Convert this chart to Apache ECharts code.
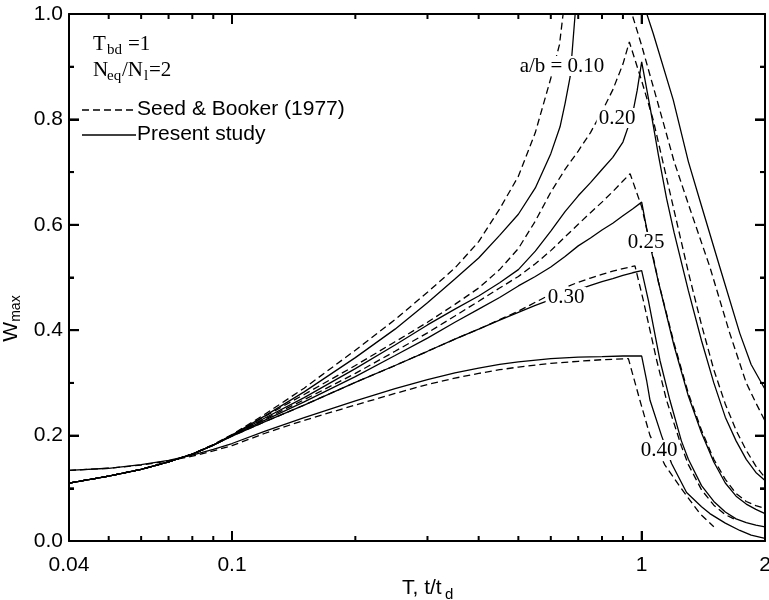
<!DOCTYPE html>
<html>
<head>
<meta charset="utf-8">
<script src="https://cdn.jsdelivr.net/npm/echarts@6/dist/echarts.min.js"></script>
<style>
  html, body { margin: 0; padding: 0; background: #fff; }
  #chart { width: 769px; height: 600px; }
</style>
</head>
<body>
<div id="chart"></div>
<script>
// W_max against normalised time T = t/t_d for five crack ratios a/b.
// Each ratio has a Seed & Booker (1977) curve (dashed) and a present-study curve (solid).

// ---- a/b = 0.10 ----
const SB010_T = [0.04,0.05,0.06,0.07,0.08,0.09,0.1,0.12,0.15,0.2,0.25,0.3,0.35,0.4,0.45,0.5,0.55,0.6,0.63,0.643,0.7,0.8,0.93,0.93,1.0,1.108,1.2,1.316,1.467,1.641,1.8,1.9,2.0];
const SB010_W = [0.110,0.123,0.136,0.150,0.165,0.183,0.202,0.240,0.290,0.362,0.420,0.472,0.518,0.568,0.630,0.692,0.775,0.878,0.942,1.000,1.30,1.70,2.20,1.02,0.940,0.817,0.720,0.627,0.520,0.394,0.300,0.262,0.228];
const PS010_T = [0.04,0.05,0.06,0.07,0.08,0.09,0.1,0.12,0.15,0.2,0.25,0.3,0.35,0.4,0.45,0.5,0.55,0.6,0.632,0.65,0.669,0.688,0.75,0.85,1.0,1.0,1.067,1.194,1.3,1.387,1.551,1.736,1.85,2.0];
const PS010_W = [0.110,0.123,0.136,0.150,0.165,0.182,0.201,0.237,0.283,0.348,0.402,0.452,0.497,0.537,0.580,0.620,0.670,0.735,0.786,0.830,0.881,1.000,1.30,1.70,2.20,1.03,0.963,0.837,0.720,0.646,0.520,0.394,0.335,0.288];

// ---- a/b = 0.20 ----
const SB020_T = [0.04,0.05,0.06,0.07,0.08,0.09,0.1,0.12,0.15,0.2,0.25,0.3,0.35,0.4,0.45,0.5,0.55,0.6,0.65,0.7,0.75,0.8,0.85,0.9,0.933,1.0,1.067,1.2,1.3,1.4,1.5,1.6,1.7,1.8,1.9,2.0];
const SB020_W = [0.110,0.123,0.136,0.150,0.165,0.182,0.201,0.236,0.278,0.333,0.378,0.415,0.449,0.480,0.515,0.555,0.607,0.662,0.705,0.740,0.775,0.815,0.856,0.905,0.947,0.873,0.799,0.627,0.510,0.410,0.325,0.260,0.210,0.172,0.142,0.120];
const PS020_T = [0.04,0.05,0.06,0.07,0.08,0.09,0.1,0.12,0.15,0.2,0.25,0.3,0.35,0.4,0.45,0.5,0.55,0.6,0.65,0.7,0.75,0.8,0.85,0.9,0.95,0.975,1.0,1.05,1.1,1.15,1.2,1.3,1.4,1.5,1.6,1.7,1.8,1.9,2.0];
const PS020_W = [0.110,0.123,0.136,0.150,0.165,0.182,0.201,0.233,0.272,0.327,0.372,0.410,0.440,0.465,0.490,0.515,0.550,0.588,0.625,0.655,0.680,0.705,0.728,0.757,0.810,0.855,0.909,0.820,0.730,0.650,0.585,0.475,0.380,0.300,0.235,0.190,0.155,0.130,0.115];

// ---- a/b = 0.25 ----
const SB025_T = [0.04,0.05,0.06,0.07,0.08,0.09,0.1,0.12,0.15,0.2,0.25,0.3,0.35,0.4,0.45,0.5,0.55,0.6,0.65,0.7,0.75,0.8,0.85,0.9,0.937,1.0,1.028,1.067,1.1,1.2,1.3,1.4,1.5,1.6,1.7,1.8,1.9,2.0];
const SB025_W = [0.110,0.123,0.136,0.150,0.165,0.182,0.200,0.231,0.268,0.318,0.360,0.395,0.427,0.455,0.480,0.502,0.526,0.551,0.577,0.601,0.623,0.643,0.663,0.683,0.697,0.634,0.593,0.539,0.490,0.375,0.280,0.210,0.155,0.117,0.090,0.075,0.067,0.062];
const PS025_T = [0.04,0.05,0.06,0.07,0.08,0.09,0.1,0.12,0.15,0.2,0.25,0.3,0.35,0.4,0.45,0.5,0.55,0.6,0.65,0.7,0.75,0.8,0.85,0.9,0.95,1.0,1.03,1.06,1.1,1.2,1.3,1.4,1.5,1.6,1.7,1.8,1.9,2.0];
const PS025_W = [0.110,0.123,0.136,0.150,0.165,0.182,0.200,0.229,0.264,0.312,0.352,0.385,0.415,0.440,0.462,0.484,0.502,0.520,0.540,0.560,0.575,0.590,0.603,0.617,0.630,0.643,0.590,0.545,0.490,0.370,0.275,0.205,0.150,0.110,0.085,0.070,0.060,0.052];

// ---- a/b = 0.30 ----
const SB030_T = [0.04,0.05,0.06,0.07,0.08,0.09,0.1,0.12,0.15,0.2,0.25,0.3,0.35,0.4,0.45,0.5,0.55,0.6,0.65,0.7,0.75,0.8,0.85,0.9,0.963,1.009,1.088,1.15,1.25,1.3,1.4,1.5,1.6,1.7];
const SB030_W = [0.110,0.123,0.136,0.150,0.165,0.182,0.199,0.226,0.258,0.301,0.333,0.360,0.383,0.402,0.420,0.436,0.453,0.468,0.481,0.491,0.499,0.506,0.512,0.517,0.522,0.457,0.343,0.267,0.180,0.145,0.097,0.068,0.050,0.040];
const PS030_T = [0.04,0.05,0.06,0.07,0.08,0.09,0.1,0.12,0.15,0.2,0.25,0.3,0.35,0.4,0.45,0.5,0.55,0.6,0.65,0.7,0.75,0.8,0.85,0.9,0.95,1.0,1.038,1.108,1.172,1.25,1.3,1.4,1.5,1.6,1.7,1.8,1.9,2.0];
const PS030_W = [0.110,0.123,0.136,0.150,0.165,0.182,0.199,0.226,0.258,0.301,0.333,0.360,0.383,0.402,0.419,0.434,0.447,0.458,0.468,0.477,0.485,0.492,0.498,0.504,0.509,0.513,0.457,0.343,0.267,0.190,0.155,0.105,0.075,0.055,0.042,0.035,0.030,0.027];

// ---- a/b = 0.40 ----
const SB040_T = [0.04,0.05,0.06,0.07,0.08,0.09,0.1,0.12,0.15,0.2,0.25,0.3,0.35,0.4,0.45,0.5,0.6,0.7,0.8,0.928,0.99,1.048,1.14,1.24,1.387,1.5];
const SB040_W = [0.134,0.138,0.144,0.152,0.161,0.171,0.181,0.204,0.229,0.258,0.280,0.297,0.309,0.318,0.325,0.330,0.337,0.341,0.344,0.346,0.267,0.200,0.144,0.103,0.052,0.027];
const PS040_T = [0.04,0.05,0.06,0.07,0.08,0.09,0.1,0.12,0.15,0.2,0.25,0.3,0.35,0.4,0.45,0.5,0.6,0.7,0.8,0.9,1.0,1.028,1.048,1.118,1.183,1.287,1.4,1.467,1.6,1.736,1.85,2.0];
const PS040_W = [0.134,0.138,0.145,0.153,0.163,0.174,0.185,0.208,0.234,0.266,0.289,0.306,0.319,0.328,0.335,0.340,0.346,0.349,0.350,0.351,0.351,0.305,0.267,0.200,0.147,0.092,0.065,0.052,0.034,0.020,0.011,0.005];

// ---- axes ----
const X_MIN = 0.04, X_MAX = 2;
const X_LABELS = [0.04, 0.1, 1, 2];
const X_MAJOR_TICKS = [0.1, 1];
const X_MINOR_TICKS = [0.05, 0.06, 0.07, 0.08, 0.09, 0.2, 0.3, 0.4, 0.5, 0.6, 0.7, 0.8, 0.9];
const Y_MIN = 0, Y_MAX = 1, Y_STEP = 0.2;
const Y_MAJOR_TICKS = [0.2, 0.4, 0.6, 0.8];
const Y_MINOR_TICKS = [0.1, 0.3, 0.5, 0.7, 0.9];

// curve annotations: text and anchor [x, y] in pixels
const CURVE_TAGS = [
  ['a/b = 0.10', 562, 66],
  ['0.20', 617, 118],
  ['0.25', 646, 242],
  ['0.30', 566, 297],
  ['0.40', 659, 450]
];

const CURVES = [
  { t: SB010_T, w: SB010_W, dashed: true },
  { t: PS010_T, w: PS010_W, dashed: false },
  { t: SB020_T, w: SB020_W, dashed: true },
  { t: PS020_T, w: PS020_W, dashed: false },
  { t: SB025_T, w: SB025_W, dashed: true },
  { t: PS025_T, w: PS025_W, dashed: false },
  { t: SB030_T, w: SB030_W, dashed: true },
  { t: PS030_T, w: PS030_W, dashed: false },
  { t: SB040_T, w: SB040_W, dashed: true },
  { t: PS040_T, w: PS040_W, dashed: false }
];

const SANS = '"Liberation Sans", Arial, sans-serif';
const SERIF = '"Liberation Serif", "Times New Roman", serif';
const DASH = [7, 4];
const LINE_W = 1.3;
const MAJOR_LEN = 10, MINOR_LEN = 5, TICK_W = 2;

const GRID = { left: 69, right: 4, top: 14, bottom: 59, outerBoundsMode: 'none', containLabel: false };

function xAxisDef(position, showLabels) {
  return {
    type: 'log', logBase: 10, min: X_MIN, max: X_MAX, position: position, gridIndex: 0,
    axisLine: { show: true, onZero: false, lineStyle: { color: '#000', width: 2 } },
    axisTick: { show: true, inside: true, length: MAJOR_LEN, customValues: X_MAJOR_TICKS,
                lineStyle: { color: '#000', width: TICK_W } },
    axisLabel: showLabels ? {
      show: true, customValues: X_LABELS, color: '#000', fontSize: 21, fontFamily: SANS,
      margin: 14, formatter: v => String(+Number(v).toPrecision(3))
    } : { show: false },
    splitLine: { show: false }, minorTick: { show: false }, minorSplitLine: { show: false }
  };
}

function yAxisDef(position, showLabels) {
  const ax = {
    type: 'value', min: Y_MIN, max: Y_MAX, interval: Y_STEP, position: position, gridIndex: 0,
    axisLine: { show: true, onZero: false, lineStyle: { color: '#000', width: 2 } },
    axisTick: { show: true, inside: true, length: MAJOR_LEN, lineStyle: { color: '#000', width: TICK_W } },
    minorTick: { show: true, splitNumber: 2, length: MINOR_LEN, lineStyle: { color: '#000', width: TICK_W } },
    axisLabel: showLabels ? {
      show: true, color: '#000', fontSize: 21, fontFamily: SANS, margin: 6,
      formatter: v => v.toFixed(1)
    } : { show: false },
    splitLine: { show: false }, minorSplitLine: { show: false }
  };
  if (showLabels) {
    // axis title W_max, subscript pushed down in the rotated frame
    ax.name = '{w|W}{s|max}';
    ax.nameLocation = 'middle';
    ax.nameRotate = 90;
    ax.nameGap = 45;
    ax.nameTextStyle = {
      padding: [0, 82, 0, 0],
      rich: {
        w: { fontSize: 21, fontFamily: SANS, color: '#000', lineHeight: 22 },
        s: { fontSize: 14, fontFamily: SANS, color: '#000', lineHeight: 14, padding: [10, 0, 0, 0] }
      }
    };
  }
  return ax;
}

function txt(text, x, y, size, family, extra) {
  return {
    type: 'text', x: x, y: y, z: 150,
    style: Object.assign({
      text: text, fill: '#000', font: size + 'px ' + family,
      align: 'left', verticalAlign: 'middle'
    }, extra || {})
  };
}

const series = CURVES.map((c, i) => ({
  type: 'line',
  name: 'curve' + i,
  xAxisIndex: 0, yAxisIndex: 0,
  data: c.t.map((t, k) => [t, c.w[k]]),
  showSymbol: false, symbol: 'none',
  clip: true,
  lineStyle: { color: '#000', width: LINE_W, type: c.dashed ? DASH : 'solid' },
  z: 2
}));

const chart = echarts.init(document.getElementById('chart'));
chart.setOption({
  animation: false,
  backgroundColor: '#fff',
  grid: GRID,
  xAxis: [ xAxisDef('bottom', true), xAxisDef('top', false) ],
  yAxis: [ yAxisDef('left', true), yAxisDef('right', false) ],
  series: series
});

// inward tick marks on all four sides, placed through the axis scales
const px = v => chart.convertToPixel({ xAxisIndex: 0 }, v);
const py = v => chart.convertToPixel({ yAxisIndex: 0 }, v);
const xL = px(X_MIN), xR = px(X_MAX), yB = py(Y_MIN), yT = py(Y_MAX);
const graphics = [];
function tickLine(x1, y1, x2, y2) {
  graphics.push({ type: 'line', z: 200, shape: { x1: x1, y1: y1, x2: x2, y2: y2 },
    style: { stroke: '#000', lineWidth: TICK_W } });
}
X_MAJOR_TICKS.forEach(v => { const x = px(v); tickLine(x, yB, x, yB - MAJOR_LEN); tickLine(x, yT, x, yT + MAJOR_LEN); });
X_MINOR_TICKS.forEach(v => { const x = px(v); tickLine(x, yB, x, yB - MINOR_LEN); tickLine(x, yT, x, yT + MINOR_LEN); });
Y_MAJOR_TICKS.forEach(v => { const y = py(v); tickLine(xL, y, xL + MAJOR_LEN, y); tickLine(xR, y, xR - MAJOR_LEN, y); });
Y_MINOR_TICKS.forEach(v => { const y = py(v); tickLine(xL, y, xL + MINOR_LEN, y); tickLine(xR, y, xR - MINOR_LEN, y); });

// white boxes that break the curves under each tag
const measure = document.createElement('canvas').getContext('2d');
measure.font = '21px ' + SERIF;
CURVE_TAGS.forEach(([label, x, y]) => {
  const w = measure.measureText(label).width + 4;
  graphics.push({ type: 'rect', z: 140, shape: { x: x - w / 2, y: y - 10, width: w, height: 20 },
    style: { fill: '#fff' } });
  graphics.push(txt(label, x, y, 21, SERIF, { align: 'center' }));
});

// parameter block
graphics.push(txt('T', 93, 44, 21, SERIF));
graphics.push(txt('bd', 107, 50, 15, SERIF));
graphics.push(txt('=1', 128, 44, 21, SERIF));
graphics.push(txt('N', 93, 70, 21, SERIF));
graphics.push(txt('eq', 107, 76, 15, SERIF));
graphics.push(txt('/N', 122, 70, 21, SERIF));
graphics.push(txt('l', 144, 76, 15, SERIF));
graphics.push(txt('=2', 149, 70, 21, SERIF));
// key
graphics.push({ type: 'line', z: 150, shape: { x1: 82, y1: 110, x2: 136, y2: 110 },
  style: { stroke: '#000', lineWidth: LINE_W, lineDash: DASH } });
graphics.push(txt('Seed & Booker (1977)', 137, 109, 21, SANS));
graphics.push({ type: 'line', z: 150, shape: { x1: 82, y1: 135, x2: 136, y2: 135 },
  style: { stroke: '#000', lineWidth: LINE_W } });
graphics.push(txt('Present study', 137, 134, 21, SANS));
// x-axis title
graphics.push(txt('T, t/t', 402, 588, 21, SANS));
graphics.push(txt('d', 445, 595, 15, SANS));

chart.setOption({ graphic: graphics });
</script>
</body>
</html>
